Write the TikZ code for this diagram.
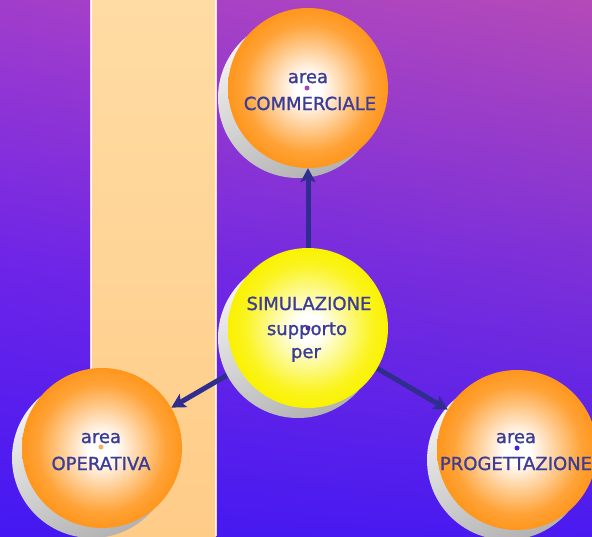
\documentclass[tikz,border=0pt]{standalone}
\usepackage{fontspec}
\setmainfont{DejaVu Sans}
\newfontfamily\lblfont[FakeBold=1.2]{DejaVu Sans}
\usetikzlibrary{arrows.meta,calc,shadings}
\definecolor{bgA}{HTML}{A23DCB}
\definecolor{bgB}{HTML}{B44AB8}
\definecolor{bgC}{HTML}{6C24E8}
\definecolor{bgD}{HTML}{7C30D8}
\definecolor{bgE}{HTML}{4418F2}
\definecolor{bgF}{HTML}{4A1AF0}
\definecolor{bandA}{HTML}{FFDCA4}
\definecolor{bandB}{HTML}{FFCC88}
\definecolor{ballorange}{HTML}{FF961C}
\definecolor{ballyellow}{HTML}{FAF200}
\definecolor{txtblue}{HTML}{3B3C95}
\definecolor{arrowblue}{HTML}{2F2E8F}
\definecolor{dotC}{HTML}{A548C0}
\definecolor{dotS}{HTML}{4F1EA8}
\definecolor{dotO}{HTML}{F2B35E}
\definecolor{dotP}{HTML}{3F22E6}
\pgfdeclareradialshading{orangeball}{\pgfpoint{0bp}{0bp}}{color(0bp)=(white); color(4bp)=(white); color(13bp)=(ballorange!50!white); color(20bp)=(ballorange!88!white); color(25bp)=(ballorange); color(50bp)=(ballorange)}
\pgfdeclareradialshading{yellowball}{\pgfpoint{0bp}{0bp}}{color(0bp)=(white); color(4bp)=(white); color(13bp)=(ballyellow!50!white); color(20bp)=(ballyellow!88!white); color(25bp)=(ballyellow); color(50bp)=(ballyellow)}
\begin{document}
\begin{tikzpicture}[x=1pt,y=-1pt,
  ball/.style={circle,inner sep=0pt,minimum size=160pt},
  shadowball/.style={top color=gray!8, bottom color=gray!60, shading angle=25},
  lbl/.style={font=\lblfont\fontsize{18}{18}\selectfont, text=txtblue, anchor=base, inner sep=0pt},
  link/.style={draw=arrowblue, line width=5pt, -{Stealth[length=14pt,width=15pt,inset=3pt]}},
  centdot/.style={circle,inner sep=0pt,minimum size=5pt}]
\useasboundingbox (0,0) rectangle (592,536);
% background
\shade[upper left=bgA, upper right=bgB, lower left=bgC, lower right=bgD] (0,0) rectangle (592,270.5);
\shade[upper left=bgC, upper right=bgD, lower left=bgE, lower right=bgF] (0,270) rectangle (592,536);
% band
\shade[top color=bandA, bottom color=bandB] (91,0) rectangle (216,536);
\draw[white, opacity=0.8, line width=1.3pt] (91,0) -- (91,536) (216,0) -- (216,536);
% ball positions
\node[ball] (C) at (308,88) {};
\node[ball] (S) at (308,328) {};
\node[ball] (O) at (102,448) {};
\node[ball] (P) at (517,450) {};
% outer balls
\foreach \b in {C,O,P}{
  \shade[shadowball] ($(\b.center)+(-10,10)$) circle[radius=80pt];
  \shade[shading=orangeball] (\b.center) circle[radius=80pt];
}
% connectors
\draw[link] (S.center) -- (C.south);
\draw[link] (S.center) -- (O);
\draw[link] (S.center) -- (P);
% central ball
\shade[shadowball] ($(S.center)+(-10,10)$) circle[radius=80pt];
\shade[shading=yellowball] (S.center) circle[radius=80pt];
% centre dots
\node[centdot, fill=dotC] (dc) at (307,88) {};
\node[centdot, fill=dotS] (ds) at (308,328) {};
\node[centdot, fill=dotO] (do) at (101,447) {};
\node[centdot, fill=dotP] (dp) at (517,448) {};
% labels
\node[lbl] (c1) at (308,83) {area};
\node[lbl] (c2) at (310,110) {COMMERCIALE};
\node[lbl] (s1) at (309,310) {SIMULAZIONE};
\node[lbl] (s2) at (307,335) {supporto};
\node[lbl] (s3) at (306,358) {per};
\node[lbl] (o1) at (101,443) {area};
\node[lbl] (o2) at (101,470) {OPERATIVA};
\node[lbl] (p1) at (516,443) {area};
\node[lbl] (p2) at (516,470) {PROGETTAZIONE};
\end{tikzpicture}
\end{document}
